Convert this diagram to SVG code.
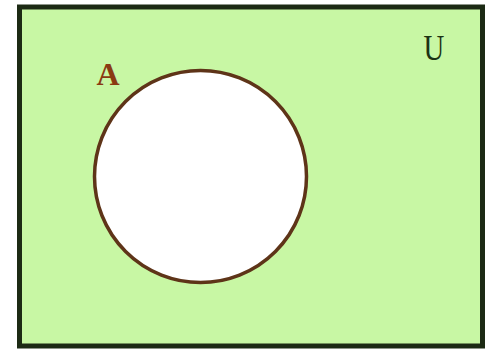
<svg xmlns="http://www.w3.org/2000/svg" width="488" height="349" viewBox="0 0 488 349">
<style>
.lbl{font-family:"Liberation Serif",serif;}
</style>
<rect width="488" height="349" fill="#ffffff"/>
<g id="universe">
<rect x="19.5" y="7" width="463" height="339" fill="#c8f7a4" stroke="#1c2a14" stroke-width="5"/>
<text class="lbl" x="434" y="60" font-size="32" fill="#1c3314" text-anchor="middle" transform="translate(434 60) scale(0.9 1.1) translate(-434 -60)">U</text>
</g>
<g id="setA">
<circle cx="200.5" cy="176.5" r="106" fill="#ffffff" stroke="#5e3418" stroke-width="3.5"/>
<text class="lbl" x="108" y="85" font-size="32" font-weight="bold" fill="#8a3a12" text-anchor="middle">A</text>
</g>
<g id="connectors"/>
</svg>
